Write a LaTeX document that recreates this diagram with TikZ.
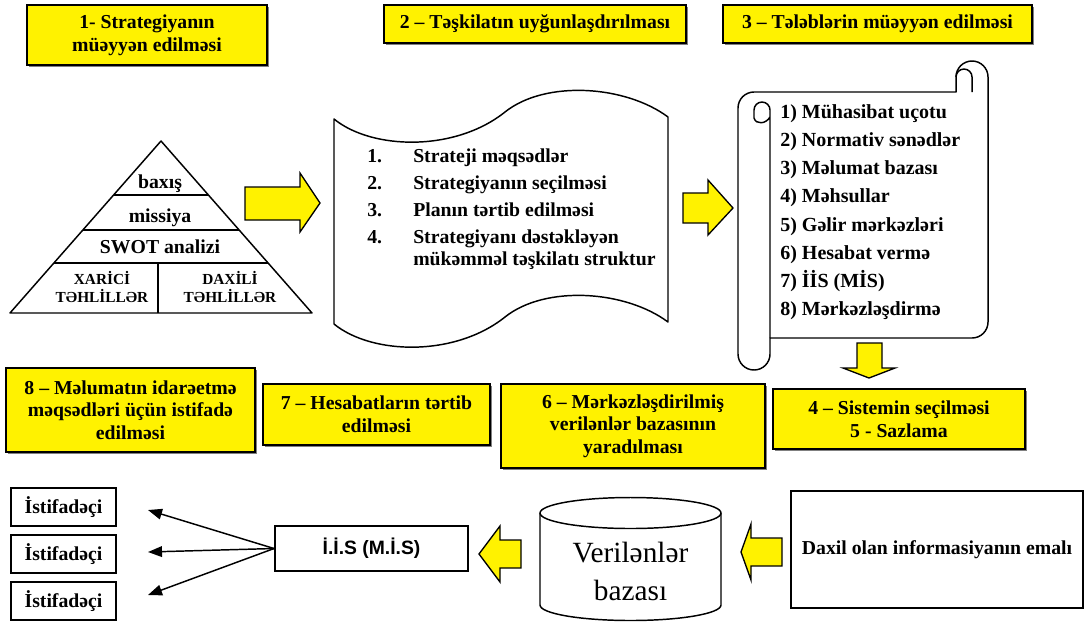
\documentclass[tikz,border=0pt]{standalone}
\usepackage{fontspec}
\setmainfont{Liberation Serif}
\newfontfamily\arialfont{Liberation Sans}
\usetikzlibrary{arrows.meta,shadows,calc}
\tikzset{
  fs/.style={font=\bfseries\fontsize{14.8}{17}\selectfont},
  ybox/.style={draw, line width=1.3pt, fill=yellow, fs, align=center, inner sep=0pt,
     drop shadow={shadow xshift=1.3pt, shadow yshift=-1.3pt, fill=black!50, opacity=1}},
  wbox/.style={draw, line width=1.4pt, fill=white, fs, align=center, inner sep=0pt},
  barrow/.style={draw, line width=1pt, fill=yellow, line join=miter},
  shapeline/.style={draw, line width=1.1pt, line join=round},
  ltxt/.style={fs, inner sep=0pt, anchor=west, text height=9pt, text depth=1pt},
  stxt/.style={font=\bfseries\fontsize{15}{18}\selectfont, inner sep=0pt, anchor=west, text height=9pt, text depth=1pt},
  ctxt/.style={fs, inner sep=0pt, text height=9pt, text depth=1pt},
  ptxt/.style={font=\bfseries\fontsize{11.5}{13}\selectfont, inner sep=0pt, align=center},
  ptr/.style={line width=1.1pt, -{Triangle[length=10.5pt,width=8pt]}},
}
\begin{document}
\begin{tikzpicture}[x=0.75pt,y=0.75pt]
\useasboundingbox (0,0) rectangle (1087,-626);

% ---------- top row boxes
\node[ybox, minimum width=180pt, minimum height=45pt] (b1) at (147,-35) {1- Strategiyanın\\müəyyən edilməsi};
\node[ybox, minimum width=226.5pt, minimum height=28.5pt] (b2) at (535,-24) {2 – Təşkilatın uyğunlaşdırılması};
\node[ybox, minimum width=231.75pt, minimum height=28.5pt] (b3) at (877.5,-24) {3 – Tələblərin müəyyən edilməsi};

% ---------- pyramid
\coordinate (pA) at (161,-141);
\coordinate (pL) at (10,-313);
\coordinate (pR) at (312,-313);
\draw[shapeline] (pA) -- (pL) -- (pR) -- cycle;
\draw[shapeline] ($(pA)!0.314!(pL)$) -- ($(pA)!0.314!(pR)$);
\draw[shapeline] ($(pA)!0.517!(pL)$) -- ($(pA)!0.517!(pR)$);
\draw[shapeline] ($(pA)!0.709!(pL)$) -- ($(pA)!0.709!(pR)$);
\draw[shapeline] (158,-263) -- (158,-313);
\node[ctxt] (p1) at (160,-183) {baxış};
\node[ctxt] (p2) at (160,-217) {missiya};
\node[ctxt] (p3) at (160,-248) {SWOT analizi};
\node[ptxt] (p4) at (102,-287) {XARİCİ\\TƏHLİLLƏR};
\node[ptxt] (p5) at (230,-287) {DAXİLİ\\TƏHLİLLƏR};

% ---------- document shape
\draw[shapeline, fill=white] (334,-119) .. controls (372,-150) and (455,-152) .. (505,-112)
   .. controls (545,-80) and (625,-85) .. (668,-117) -- (668,-322)
   .. controls (625,-290) and (545,-285) .. (505,-317)
   .. controls (455,-357) and (372,-355) .. (334,-324) -- cycle;
\node[ltxt] (n1) at (367,-157) {1.};
\node[ltxt] (n2) at (367,-184) {2.};
\node[ltxt] (n3) at (367,-211) {3.};
\node[ltxt] (n4) at (367,-238) {4.};
\node[ltxt] (d1) at (413,-157) {Strateji məqsədlər};
\node[ltxt] (d2) at (413,-184) {Strategiyanın seçilməsi};
\node[ltxt] (d3) at (413,-211) {Planın tərtib edilməsi};
\node[ltxt] (d4) at (413,-238) {Strategiyanı dəstəkləyən};
\node[ltxt] (d5) at (413,-260) {mükəmməl təşkilatı struktur};

% ---------- scroll shape
\draw[shapeline, fill=white] (738,-354) -- (738,-108) arc[start angle=180,end angle=90,radius=16]
   -- (956,-92) -- (956,-77) arc[start angle=180,end angle=0,radius=16]
   -- (988,-322) arc[start angle=0,end angle=-90,radius=16]
   -- (770,-338) -- (770,-354) arc[start angle=0,end angle=-180,radius=16] -- cycle;
\draw[shapeline] (770,-338) -- (770,-110) arc[start angle=0,end angle=180,radius=8]
   -- (754,-118) .. controls (756,-125) and (766,-124) .. (770,-117);
\draw[shapeline] (972,-92) -- (972,-77) arc[start angle=0,end angle=180,radius=8];
\node[stxt] (s1) at (780,-113) {1) Mühasibat uçotu};
\node[stxt] (s2) at (780,-141.2) {2) Normativ sənədlər};
\node[stxt] (s3) at (780,-169.4) {3) Məlumat bazası};
\node[stxt] (s4) at (780,-197.6) {4) Məhsullar};
\node[stxt] (s5) at (780,-225.8) {5) Gəlir mərkəzləri};
\node[stxt] (s6) at (780,-254) {6) Hesabat vermə};
\node[stxt] (s7) at (780,-282.2) {7) İİS (MİS)};
\node[stxt] (s8) at (780,-310.4) {8) Mərkəzləşdirmə};

% ---------- block arrows
\draw[barrow] (245,-187) -- (300,-187) -- (300,-173) -- (320,-203) -- (300,-232) -- (300,-220) -- (245,-220) -- cycle;
\draw[barrow] (683,-193) -- (708,-193) -- (708,-180) -- (733,-208) -- (708,-235) -- (708,-223) -- (683,-223) -- cycle;
\draw[barrow] (857,-343) -- (882,-343) -- (882,-368) -- (895,-368) -- (869,-378) -- (843,-368) -- (857,-368) -- cycle;
\draw[barrow] (521,-540) -- (500,-540) -- (500,-526) -- (479,-554) -- (500,-582) -- (500,-568) -- (521,-568) -- cycle;
\draw[barrow] (782,-538) -- (751,-538) -- (751,-524) -- (741,-552) -- (751,-580) -- (751,-566) -- (782,-566) -- cycle;

% ---------- second row boxes
\node[ybox, minimum width=186.75pt, minimum height=63pt] (b8) at (130.5,-410) {8 – Məlumatın idarəetmə\\məqsədləri üçün istifadə\\edilməsi};
\node[ybox, minimum width=170.25pt, minimum height=45.75pt] (b7) at (376.5,-414.5) {7 – Hesabatların tərtib\\edilməsi};
\node[ybox, minimum width=198pt, minimum height=63pt] (b6) at (633,-426) {6 – Mərkəzləşdirilmiş\\verilənlər bazasının\\yaradılması};
\node[ybox, minimum width=189pt, minimum height=45pt] (b45) at (899,-419) {4 – Sistemin seçilməsi\\5 - Sazlama};

% ---------- bottom row
\node[wbox, minimum width=78.75pt, minimum height=28.5pt] (u1) at (63.5,-507) {İstifadəçi};
\node[wbox, minimum width=78.75pt, minimum height=28.5pt] (u2) at (63.5,-554) {İstifadəçi};
\node[wbox, minimum width=78.75pt, minimum height=28.5pt] (u3) at (63.5,-601) {İstifadəçi};
\node[wbox, minimum width=144.75pt, minimum height=33.75pt, font=\arialfont\bfseries\fontsize{14.5}{17}\selectfont] (iis) at (371.5,-548.5) {İ.İ.S (M.İ.S)};
\node[wbox, minimum width=219pt, minimum height=87.75pt] (dax) at (937,-549.5) {Daxil olan informasiyanın emalı};

\coordinate (t1) at (148,-510);
\coordinate (t2) at (148,-552);
\coordinate (t3) at (148,-595);
\draw[ptr] (iis.west) -- (t1);
\draw[ptr] (iis.west) -- (t2);
\draw[ptr] (iis.west) -- (t3);

% ---------- database cylinder
\draw[shapeline, fill=white] (540,-513) -- (540,-605) arc[start angle=180,end angle=360,x radius=90.5,y radius=15.5]
   -- (721,-513) arc[start angle=0,end angle=180,x radius=90.5,y radius=15.5] -- cycle;
\draw[shapeline] (540,-513) arc[start angle=180,end angle=360,x radius=90.5,y radius=15.5];
\node[font=\fontsize{22}{28}\selectfont, align=center, inner sep=0pt] (db) at (630.5,-571.5) {Verilənlər\\bazası};

\end{tikzpicture}
\end{document}
